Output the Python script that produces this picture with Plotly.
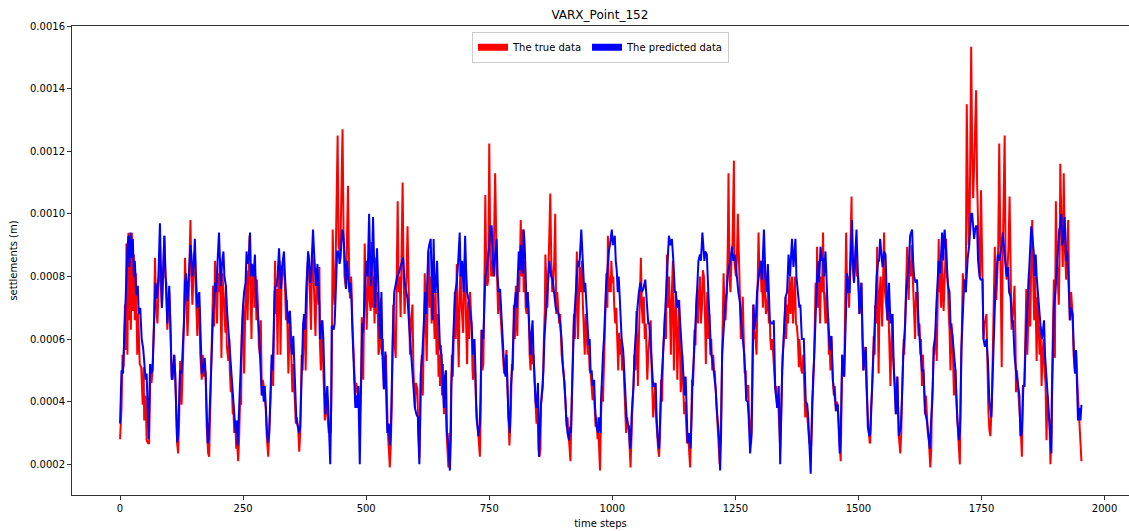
import plotly.graph_objects as go

# settlement values are given in units of 1e-4 m, paired with their time step
UNIT = 1e-4

true_pts = [
(0,2.8),(3,3.8),(5,5.5),(7,5.1),(10,7.1),(12,5.65),(13,9.05),(15,5.5),(17,9.4),(18,6.6),(20,9.3),(22,6.3),(24,9.4),(26,6.9),(28,8.7),(30,6.6),(32,8.1),(35,5.5),(37,6.8),(40,5.2),(43,5.1),(46,3.9),(48,5.1),(49,3.4),(52,4.2),(54,2.77),(57,2.67),(59,2.67),
(62,5.2),(64,4.6),(66,5.0),(69,6.6),(71,8.6),(73,7.1),(76,6.5),(78,7.5),(80,8.7),(82,8.1),(85,7.0),(87,7.9),(90,9.3),(92,8.0),(94,7.8),(96,6.3),(98,6.9),(100,7.5),(102,6.6),(105,4.8),(107,4.7),(110,5.5),(112,4.9),(114,3.4),(116,2.67),(118,2.35),(120,3.4),
(122,5.3),(125,3.9),(127,4.9),(130,6.6),(132,8.6),(134,7.5),(137,6.1),(139,7.0),(141,8.7),(143,9.8),(145,8.0),(147,7.1),(150,8.5),(152,8.8),(154,7.5),(157,6.1),(159,7.35),(161,7.0),(163,5.5),(166,4.7),(168,5.5),(170,4.8),(172,5.2),(174,4.8),(176,3.2),(178,2.67),(179,2.35),(181,2.24),
(184,4.5),(186,4.9),(189,7.7),(191,6.4),(193,8.5),(195,7.5),(197,6.5),(199,8.1),(201,7.5),(203,8.6),(205,6.8),(206,5.4),(208,8.1),(210,7.5),(212,7.25),(214,6.2),(215,7.7),(217,5.75),(220,5.3),(222,6.0),(223,5.0),(225,4.3),(227,4.5),(229,3.6),(230,3.9),(232,3.0),(234,3.4),(236,2.5),(237,2.9),(240,2.1),
(242,2.9),(244,4.2),(246,3.9),(247,6.1),(250,7.1),(252,4.9),(255,7.5),(257,8.2),(259,6.6),(261,8.0),(263,9.3),(265,7.7),(267,6.0),(269,8.3),(271,8.1),(273,7.0),(275,8.0),(277,6.6),(278,7.9),(280,7.1),(282,5.8),(284,5.5),(286,6.6),(288,4.2),(290,4.7),(292,4.5),(294,4.05),(296,3.8),(298,2.9),(301,2.24),
(303,3.0),(305,3.9),(307,4.5),(309,5.5),(311,4.5),(313,7.7),(315,8.5),(316,6.8),(318,7.6),(320,5.5),(322,8.3),(324,8.5),(326,5.5),(328,7.7),(330,8.1),(332,8.6),(335,7.7),(337,6.6),(339,7.25),(342,4.9),(344,6.1),(345,6.9),(347,6.1),(350,4.3),(352,5.2),(354,4.5),(357,3.3),(359,3.5),(362,3.1),(364,2.4),
(366,3.0),(369,5.5),(371,5.0),(373,6.3),(375,6.8),(377,5.0),(379,7.7),(381,8.4),(383,8.7),(385,7.9),(388,6.3),(390,8.7),(392,8.5),(394,7.6),(397,6.1),(399,7.7),(401,7.8),(403,7.1),(405,8.3),(406,5.9),(408,5.0),(410,6.6),(412,5.5),(414,4.5),(416,3.4),(418,3.7),(420,4.2),(422,3.4),(424,3.0),(426,3.2),(428,3.0),
(430,5.0),(432,9.5),(434,7.6),(436,7.1),(438,8.5),(440,10.0),(442,12.5),(444,9.0),(446,8.8),(448,9.2),(450,10.5),(452,12.7),(454,9.5),(456,8.0),(459,7.6),(461,9.0),(463,10.9),(465,8.5),(467,7.3),(469,8.0),(470,7.8),(472,6.5),(474,5.5),(476,4.7),(478,4.2),(480,4.6),(482,4.3),(484,4.5),(486,3.5),(488,3.8),
(490,5.0),(491,6.7),(494,4.7),(497,9.05),(499,7.0),(501,6.3),(503,7.5),(505,8.5),(507,7.2),(509,6.9),(511,9.1),(513,7.0),(515,8.0),(517,6.5),(519,8.6),(521,6.8),(523,7.5),(525,5.5),(528,5.8),(530,7.3),(532,5.5),(534,6.0),(536,4.4),(538,5.3),(540,5.5),(542,3.6),(544,3.0),(546,2.5),(548,1.9),
(550,2.6),(552,3.9),(555,7.1),(557,6.0),(560,5.4),(562,8.0),(564,10.4),(566,7.5),(568,8.0),(570,6.7),(572,8.5),(574,11.0),(576,8.0),(578,6.8),(580,7.5),(582,8.0),(584,9.6),(586,7.5),(588,6.0),(589,5.5),(591,6.5),(594,7.1),(596,5.0),(599,3.8),(601,4.6),(604,4.4),(606,3.0),(608,2.2),
(610,3.5),(611,4.9),(613,5.5),(615,4.2),(617,6.0),(619,8.1),(621,6.5),(623,5.3),(625,7.5),(627,8.8),(629,7.0),(631,8.0),(633,6.5),(635,8.5),(637,7.0),(639,6.0),(641,7.5),(643,5.5),(645,6.8),(647,4.8),(649,5.5),(650,4.5),(652,5.8),(654,4.2),(656,5.2),(658,3.6),(660,4.5),(662,3.5),(664,2.8),(667,1.9),
(669,3.0),(671,2.9),(672,4.0),(674,5.5),(676,4.8),(678,6.5),(680,7.5),(682,6.0),(684,8.4),(686,6.5),(688,5.1),(690,7.5),(692,8.5),(694,7.0),(697,6.2),(699,8.0),(701,8.5),(703,6.5),(705,5.2),(707,7.2),(709,6.0),(711,7.5),(714,6.5),(716,5.0),(717,4.7),(719,5.5),(721,5.0),(723,4.0),(725,3.5),(727,2.9),(729,2.5),(731,2.24),
(733,4.0),(734,6.3),(736,5.0),(738,5.2),(740,7.5),(742,10.6),(744,8.0),(746,7.7),(748,7.9),(750,12.25),(752,9.0),(754,8.0),(756,8.5),(758,8.0),(760,9.5),(762,11.3),(765,8.5),(768,6.8),(770,7.6),(772,7.0),(775,6.0),(778,5.5),(780,4.9),(782,5.0),(785,5.65),(787,4.5),(789,3.5),(791,2.6),
(794,3.8),(796,5.2),(798,5.0),(800,7.1),(802,6.0),(804,7.7),(806,6.5),(807,6.1),(809,8.0),(811,7.5),(813,9.0),(814,9.8),(816,8.0),(818,9.5),(820,7.5),(822,8.5),(824,7.0),(826,6.8),(828,7.5),(830,6.9),(832,5.5),(834,5.0),(836,6.0),(838,5.2),(840,5.5),(842,4.5),(844,4.0),(846,3.3),(848,3.8),(850,2.5),(852,2.24),
(854,2.5),(855,3.9),(857,4.2),(859,4.5),(861,6.0),(863,7.0),(864,8.7),(866,7.5),(868,7.0),(870,8.0),(872,9.0),(874,10.65),(876,8.5),(878,7.5),(880,7.9),(882,8.5),(884,10.0),(886,6.8),(888,7.5),(890,7.0),(892,6.5),(894,6.8),(895,6.0),(897,5.5),(899,5.2),(901,5.0),(903,4.4),(905,4.0),(907,3.2),(909,3.5),(911,3.0),(913,2.6),(915,2.1),
(918,4.4),(920,5.5),(922,6.8),(924,6.0),(926,7.5),(928,8.8),(930,6.0),(932,7.0),(934,8.3),(936,7.5),(938,8.5),(940,7.2),(942,6.5),(944,5.5),(946,6.8),(948,6.0),(950,5.5),(952,5.8),(954,5.0),(956,4.9),(958,4.5),(960,4.05),(962,4.5),(964,3.8),(966,3.2),(968,3.5),(970,2.8),(972,3.0),(975,1.8),
(977,3.5),(979,4.5),(981,4.0),(983,5.0),(985,6.5),(987,7.5),(988,8.1),(990,7.0),(991,9.3),(993,7.5),(995,8.0),(997,7.5),(998,8.5),(1000,7.8),(1002,8.0),(1004,7.0),(1006,6.5),(1008,7.0),(1010,6.0),(1012,5.0),(1014,6.2),(1016,5.5),(1018,6.0),(1020,5.0),(1022,5.5),(1024,4.5),(1026,4.0),(1028,3.0),(1030,3.5),(1032,3.2),(1034,3.0),(1037,1.9),
(1039,3.5),(1041,3.9),(1043,4.5),(1045,5.5),(1047,5.0),(1049,6.9),(1051,5.5),(1052,4.5),(1054,6.0),(1056,7.0),(1058,8.6),(1060,7.0),(1062,6.5),(1064,7.35),(1066,6.0),(1068,6.5),(1070,5.5),(1071,4.7),(1073,5.5),(1075,6.0),(1078,6.6),(1080,5.0),(1083,3.5),(1085,4.0),(1087,4.6),(1089,3.5),(1091,2.9),(1093,2.5),(1095,2.24),
(1097,3.0),(1099,4.7),(1101,4.0),(1103,5.5),(1105,6.0),(1107,6.8),(1109,6.0),(1111,8.7),(1113,7.0),(1115,8.0),(1117,7.0),(1119,5.5),(1121,7.5),(1123,8.5),(1125,5.0),(1127,6.5),(1129,7.5),(1131,6.0),(1132,4.7),(1134,6.0),(1136,7.25),(1137,6.0),(1139,4.3),(1141,5.0),(1142,5.5),(1144,4.5),(1146,3.6),(1148,4.0),(1150,3.5),(1152,2.67),(1154,3.0),(1156,2.5),(1158,1.9),
(1160,3.0),(1162,4.7),(1164,4.5),(1166,5.5),(1167,6.3),(1169,5.8),(1170,7.0),(1172,7.5),(1174,6.5),(1176,7.5),(1178,8.0),(1180,6.5),(1182,7.0),(1184,8.2),(1186,8.0),(1188,7.0),(1190,5.2),(1191,6.5),(1193,7.5),(1195,6.0),(1197,6.8),(1199,5.5),(1201,6.0),(1203,5.0),(1205,5.5),(1207,4.9),(1208,5.0),(1210,4.4),(1212,3.8),(1213,3.4),(1215,3.0),(1216,2.35),(1218,2.0),
(1221,3.5),(1223,5.5),(1225,6.5),(1226,8.1),(1228,7.0),(1230,6.6),(1231,7.0),(1233,7.5),(1235,9.5),(1236,11.3),(1238,8.0),(1240,7.5),(1242,8.5),(1244,9.0),(1247,11.7),(1248,8.5),(1251,8.0),(1253,8.5),(1255,10.0),(1257,8.0),(1259,7.5),(1261,6.0),(1263,7.0),(1265,7.35),(1267,6.0),(1269,4.9),(1271,5.0),(1272,4.05),(1274,4.5),(1276,4.5),(1278,3.5),(1280,3.0),(1282,2.67),
(1284,4.5),(1286,7.1),(1288,6.0),(1289,6.3),(1291,6.0),(1293,5.5),(1295,7.5),(1297,9.4),(1299,8.0),(1301,8.5),(1303,7.5),(1304,7.9),(1306,7.0),(1308,8.5),(1310,7.5),(1312,6.8),(1314,7.0),(1316,7.5),(1318,6.5),(1320,6.6),(1321,6.0),(1323,5.65),(1325,6.0),(1327,5.5),(1329,5.0),(1331,4.4),(1333,4.5),(1335,3.8),(1337,4.0),(1339,3.0),(1341,2.5),
(1343,3.5),(1345,5.0),(1346,5.5),(1348,5.9),(1350,6.5),(1352,7.35),(1353,6.0),(1355,7.1),(1357,6.5),(1358,7.5),(1360,8.0),(1362,6.8),(1363,7.5),(1365,8.0),(1367,6.5),(1369,7.5),(1371,8.0),(1373,6.5),(1375,6.4),(1377,6.0),(1379,5.1),(1380,6.0),(1382,5.5),(1384,5.0),(1386,4.9),(1388,5.5),(1390,4.5),(1392,3.5),(1394,4.0),(1396,3.5),(1398,3.0),(1400,2.7),(1402,2.6),
(1404,2.6),(1406,4.05),(1408,4.5),(1410,5.4),(1411,6.5),(1413,7.8),(1415,7.0),(1416,8.95),(1418,7.0),(1420,7.8),(1422,6.5),(1424,8.0),(1426,7.5),(1428,9.4),(1430,7.5),(1431,7.0),(1433,6.5),(1435,7.5),(1437,6.5),(1438,6.8),(1440,5.5),(1442,5.65),(1443,5.0),(1445,6.1),(1447,5.0),(1448,4.7),(1450,4.2),(1452,4.5),(1454,3.7),(1456,4.0),(1458,3.9),(1460,3.0),(1462,2.6),(1464,2.1),
(1467,5.5),(1468,5.2),(1471,4.8),(1473,6.5),(1475,9.4),(1477,7.5),(1479,8.0),(1481,7.0),(1483,8.5),(1486,10.55),(1487,8.5),(1489,8.0),(1491,7.8),(1493,8.5),(1495,9.0),(1497,8.0),(1499,8.1),(1501,7.5),(1502,6.8),(1504,7.0),(1506,7.8),(1508,6.0),(1510,5.0),(1512,5.3),(1514,5.75),(1516,4.5),(1518,3.8),(1520,3.3),(1523,2.67),
(1524,2.7),(1526,3.8),(1528,4.5),(1531,6.1),(1533,5.5),(1534,7.1),(1536,6.5),(1538,8.95),(1539,7.0),(1541,4.9),(1543,7.5),(1545,8.0),(1548,6.4),(1550,7.5),(1552,9.4),(1554,7.5),(1556,7.0),(1559,6.6),(1560,7.5),(1562,6.0),(1563,5.5),(1565,4.5),(1567,6.0),(1569,6.8),(1570,5.5),(1572,5.0),(1574,4.5),(1576,3.6),(1577,4.0),(1579,4.8),(1581,3.5),(1582,2.9),(1585,2.35),
(1587,3.0),(1588,3.9),(1590,5.0),(1592,6.0),(1593,5.5),(1595,6.5),(1597,8.0),(1599,8.95),(1600,8.0),(1602,7.25),(1604,8.5),(1606,8.0),(1608,9.0),(1610,8.0),(1612,7.7),(1614,6.5),(1615,6.0),(1617,7.5),(1619,7.0),(1620,7.5),(1622,6.1),(1624,6.5),(1626,5.5),(1627,6.0),(1629,4.5),(1631,5.5),(1633,4.8),(1635,3.6),(1637,4.2),(1639,3.4),(1641,3.0),(1643,2.77),(1645,2.3),(1646,1.9),
(1648,2.5),(1649,3.9),(1651,4.5),(1653,5.75),(1654,5.5),(1656,6.1),(1658,6.5),(1659,5.3),(1661,7.5),(1663,9.2),(1665,7.5),(1666,8.1),(1668,7.0),(1670,8.5),(1673,6.9),(1675,8.0),(1678,9.2),(1680,8.0),(1682,7.7),(1683,7.0),(1685,6.3),(1687,5.0),(1689,6.5),(1691,6.1),(1692,5.0),(1694,4.2),(1695,5.0),(1697,5.0),(1699,4.0),(1701,3.4),(1702,3.2),(1704,2.77),(1706,2.0),
(1707,3.5),(1709,5.65),(1711,7.5),(1712,8.1),(1714,7.5),(1716,7.9),(1718,7.5),(1719,10.0),(1720,13.5),(1722,11.0),(1724,9.0),(1726,9.9),(1727,13.0),(1729,15.34),(1731,12.0),(1733,10.5),(1735,11.5),(1737,12.5),(1739,13.95),(1741,11.0),(1743,9.0),(1745,8.5),(1747,8.0),(1749,10.75),(1752,7.9),(1754,6.0),(1756,6.5),(1758,6.6),(1760,6.8),(1762,5.0),(1764,3.7),(1766,3.1),(1768,2.9),
(1771,4.0),(1773,5.5),(1775,7.0),(1777,8.95),(1778,8.0),(1780,7.25),(1782,8.0),(1784,9.0),(1786,12.25),(1789,8.8),(1790,7.0),(1791,5.1),(1793,8.5),(1795,10.0),(1797,12.5),(1799,8.4),(1801,7.9),(1803,8.3),(1805,9.0),(1807,10.55),(1809,7.35),(1811,6.3),(1813,6.6),(1815,7.0),(1817,7.7),(1819,6.0),(1820,4.3),(1822,5.0),(1824,4.5),(1826,4.2),(1828,3.5),(1830,3.0),(1832,2.24),
(1834,4.5),(1837,4.5),(1839,6.0),(1841,7.6),(1843,5.5),(1845,6.5),(1846,8.1),(1849,6.4),(1851,8.5),(1853,9.8),(1855,8.0),(1857,6.6),(1859,8.0),(1862,5.3),(1864,7.35),(1866,6.5),(1868,5.5),(1870,6.4),(1872,4.5),(1874,5.5),(1876,6.0),(1878,5.0),(1880,4.6),(1882,2.77),(1884,4.2),(1886,3.5),(1888,3.4),(1890,2.0),
(1892,3.0),(1893,4.5),(1895,6.1),(1897,7.9),(1899,5.4),(1901,10.4),(1903,8.7),(1905,8.0),(1907,7.1),(1909,9.0),(1910,11.6),(1912,10.0),(1913,9.0),(1915,8.3),(1917,11.3),(1919,9.0),(1922,7.9),(1924,8.8),(1926,9.8),(1929,6.6),(1932,7.5),(1935,6.8),(1937,5.5),(1940,4.9),(1942,5.65),(1945,4.5),(1947,3.8),(1949,3.4),(1951,2.8),(1953,2.1),
]

pred_pts = [
(0,3.3),(3,5.0),(6,4.9),(9,6.3),(12,7.5),(15,8.9),(17,9.3),(19,8.3),(21,9.4),(24,8.6),(26,9.2),(28,8.0),(30,8.5),(33,7.4),(36,7.7),(38,6.8),(41,7.0),(44,6.0),(47,5.7),(50,5.2),(52,4.7),(54,4.9),(56,3.3),(58,2.8),
(61,5.2),(63,4.9),(66,5.0),(69,6.6),(72,7.8),(75,7.3),(78,8.0),(81,9.7),(83,8.1),(85,7.0),(87,7.9),(90,9.3),(92,8.3),(94,7.5),(96,6.5),(98,7.2),(100,7.7),(102,6.6),(105,4.7),(108,5.0),(110,5.5),(112,4.9),(114,3.6),(116,2.7),(118,3.0),
(120,4.5),(122,5.0),(125,4.9),(127,5.5),(130,6.6),(132,7.8),(134,8.1),(137,7.2),(139,8.0),(141,8.7),(143,9.0),(145,8.7),(147,8.0),(150,8.5),(152,9.2),(154,8.1),(157,7.0),(159,7.35),(161,7.5),(163,6.5),(166,4.9),(168,5.0),(170,5.2),(172,5.4),(174,4.8),(176,3.2),(178,2.67),(180,2.8),
(182,3.8),(184,4.5),(186,5.2),(189,6.8),(191,7.2),(193,7.8),(195,7.5),(197,8.1),(199,8.6),(201,9.4),(203,8.5),(205,7.7),(207,8.4),(210,8.8),(212,8.0),(215,7.7),(217,7.0),(220,6.3),(222,6.0),(225,5.0),(227,4.5),(229,4.2),(231,3.8),(233,3.4),(235,3.0),(237,3.4),(239,2.6),
(241,3.5),(244,4.7),(246,5.5),(248,6.5),(250,7.1),(252,7.5),(255,7.8),(257,8.8),(259,8.4),(262,8.7),(264,9.4),(266,8.0),(268,8.4),(271,8.0),(274,8.7),(276,7.5),(278,7.2),(280,6.8),(282,6.3),(284,5.5),(286,5.0),(288,4.2),(290,4.5),(292,4.0),(294,4.5),(296,3.8),(299,2.9),(301,2.7),(303,3.0),
(305,3.9),(308,5.5),(310,5.0),(312,6.8),(314,7.5),(316,7.7),(318,7.7),(320,8.0),(323,8.9),(325,8.2),(327,7.6),(329,8.3),(331,8.5),(333,8.8),(335,8.0),(337,7.5),(339,7.0),(341,6.5),(343,6.8),(345,6.9),(347,6.0),(349,5.5),(352,6.1),(354,5.0),(356,4.5),(358,3.5),(360,3.3),(362,3.1),(364,3.0),(366,3.2),
(368,4.5),(370,5.5),(372,6.5),(374,6.8),(376,6.3),(378,7.5),(380,8.0),(382,8.8),(384,8.5),(386,7.8),(388,8.0),(390,8.7),(392,9.5),(394,8.8),(396,8.2),(398,7.7),(401,8.4),(403,7.6),(405,7.1),(406,6.0),(408,6.3),(411,6.6),(413,6.0),(415,4.5),(417,3.6),(419,4.0),(421,4.5),(423,3.8),(425,3.0),(427,2.0),
(429,4.0),(430,6.4),(432,6.4),(434,6.3),(436,6.5),(438,7.5),(441,8.8),(444,8.8),(446,8.4),(448,8.6),(451,9.5),(453,9.4),(455,9.0),(457,8.3),(459,7.6),(461,8.5),(464,8.0),(466,7.5),(468,7.8),(470,7.3),(472,6.3),(474,5.5),(476,4.7),(478,3.8),(480,4.2),(482,3.8),(484,4.5),(486,2.6),(487,2.0),
(489,4.0),(490,5.5),(492,6.5),(494,6.2),(497,7.5),(500,8.5),(503,8.0),(506,10.0),(508,8.5),(510,7.7),(512,8.5),(514,9.9),(516,8.5),(518,7.0),(520,8.0),(522,8.9),(525,7.5),(528,6.0),(531,7.5),(533,5.5),(536,4.4),(539,5.6),(541,4.0),(543,3.0),(546,3.3),(548,2.6),
(550,3.0),(551,3.9),(554,6.0),(557,7.5),(560,7.8),(563,8.0),(566,8.1),(569,8.3),(572,8.5),(575,8.6),(578,7.8),(581,7.6),(584,7.3),(587,6.5),(590,5.8),(593,5.0),(596,4.5),(599,3.8),(602,3.6),(605,3.5),(608,2.0),
(610,3.5),(611,4.9),(614,5.5),(617,6.5),(620,7.5),(622,6.8),(624,8.0),(626,8.8),(628,9.0),(631,9.2),(633,8.0),(635,6.6),(637,9.2),(639,7.5),(641,7.5),(644,8.5),(647,7.0),(650,5.7),(653,5.5),(656,4.5),(658,3.8),(660,4.8),(662,5.0),(664,3.0),(667,2.6),(670,1.8),
(672,2.8),(673,4.5),(675,5.5),(678,6.5),(681,7.5),(684,7.8),(687,8.5),(690,9.4),(692,8.0),(695,8.5),(698,7.5),(701,9.3),(703,8.2),(705,7.5),(708,7.25),(711,6.8),(714,6.5),(717,5.5),(720,6.0),(722,5.0),(724,3.5),(726,3.2),(728,2.9),(731,3.3),
(733,5.0),(735,6.3),(738,6.0),(740,7.0),(742,8.0),(744,8.1),(747,8.5),(750,9.0),(752,9.6),(755,9.6),(757,8.5),(760,8.0),(762,8.7),(765,9.2),(767,8.0),(769,7.5),(772,7.6),(775,6.5),(778,5.5),(780,5.2),(783,4.8),(785,5.5),(787,4.5),(789,3.5),(792,3.0),
(794,4.5),(797,5.2),(799,6.5),(801,7.0),(804,7.5),(806,7.0),(808,8.0),(810,8.8),(812,8.2),(814,9.0),(816,8.5),(818,8.1),(820,9.5),(822,9.0),(824,8.0),(826,7.0),(828,7.5),(830,6.9),(832,6.5),(834,5.5),(836,6.2),(838,6.6),(840,5.5),(842,4.5),(844,4.0),(846,3.8),(848,4.2),(849,4.6),(851,2.24),
(853,3.5),(855,3.9),(858,4.5),(860,5.0),(862,6.0),(864,6.8),(866,7.0),(868,7.5),(870,8.0),(872,8.5),(874,8.2),(876,8.0),(879,7.9),(882,7.5),(885,7.0),(888,6.9),(891,6.8),(894,6.5),(897,6.0),(900,5.0),(903,4.6),(906,3.6),(909,3.0),(912,2.77),(914,3.2),
(916,3.0),(918,4.4),(920,5.5),(922,6.5),(924,7.0),(926,7.5),(928,8.0),(930,8.5),(932,8.3),(934,8.6),(937,9.5),(939,8.8),(941,8.1),(943,7.5),(945,7.8),(947,7.25),(950,6.5),(952,5.8),(954,6.0),(956,4.9),(958,5.0),(960,4.5),(963,4.7),(965,3.8),(968,3.2),(971,3.0),(973,3.5),(976,3.0),
(977,4.0),(979,5.0),(981,5.5),(983,6.0),(985,7.0),(987,7.5),(989,8.0),(991,8.5),(993,8.8),(995,9.0),(997,9.4),(999,9.5),(1001,9.0),(1003,9.2),(1005,9.3),(1007,8.5),(1009,8.2),(1011,7.5),(1013,8.0),(1015,7.35),(1017,6.5),(1019,6.0),(1022,5.65),(1025,4.7),(1027,4.0),(1029,3.5),(1031,3.3),(1034,3.2),(1036,2.5),(1038,2.8),
(1039,3.5),(1041,3.9),(1043,4.5),(1045,5.5),(1048,6.5),(1051,7.0),(1054,7.5),(1057,7.8),(1060,7.5),(1063,7.6),(1067,7.9),(1070,7.0),(1073,6.5),(1075,6.5),(1077,6.0),(1080,5.0),(1083,4.5),(1086,4.5),(1088,4.6),(1090,3.5),(1092,2.9),(1095,2.5),
(1097,3.5),(1100,4.7),(1103,5.5),(1106,6.5),(1109,7.5),(1112,8.5),(1115,9.3),(1118,9.0),(1121,9.2),(1124,8.5),(1127,7.5),(1129,7.5),(1132,7.0),(1135,7.25),(1138,6.5),(1140,6.0),(1142,5.5),(1145,4.8),(1147,4.2),(1149,4.8),(1151,3.5),(1153,2.67),(1156,3.0),(1159,2.5),
(1161,3.5),(1163,4.7),(1166,5.5),(1168,6.3),(1171,7.0),(1173,8.0),(1175,8.5),(1178,8.7),(1180,8.5),(1183,9.4),(1185,8.8),(1187,8.5),(1189,8.8),(1192,8.7),(1195,7.5),(1197,6.8),(1199,6.0),(1201,5.5),(1203,5.4),(1206,5.0),(1208,4.8),(1210,4.4),(1212,3.8),(1214,3.3),(1217,2.8),(1219,1.8),
(1221,3.0),(1223,5.5),(1226,6.5),(1229,7.0),(1232,7.5),(1234,8.0),(1237,8.3),(1240,8.5),(1243,8.95),(1246,8.5),(1249,8.7),(1251,8.2),(1253,8.0),(1256,7.5),(1259,7.2),(1262,6.5),(1265,6.0),(1268,5.5),(1270,4.9),(1272,4.05),(1275,4.0),(1277,3.5),(1280,2.35),(1283,3.0),
(1285,5.0),(1287,7.1),(1289,6.3),(1292,6.8),(1294,7.5),(1297,8.0),(1301,8.5),(1304,7.9),(1306,8.5),(1308,9.5),(1311,8.0),(1314,7.5),(1316,8.4),(1318,7.5),(1320,6.6),(1323,6.5),(1326,6.5),(1328,6.6),(1331,4.4),(1335,3.8),(1338,4.5),(1340,3.0),(1341,2.0),
(1343,3.5),(1345,5.0),(1348,6.0),(1350,6.8),(1352,7.35),(1355,7.5),(1358,8.7),(1361,8.0),(1365,9.2),(1368,8.3),(1372,9.2),(1374,8.0),(1377,7.5),(1380,7.0),(1382,7.1),(1385,6.0),(1389,6.0),(1391,5.0),(1393,4.0),(1396,3.9),(1398,3.5),(1400,2.77),(1403,1.7),
(1404,2.5),(1406,4.05),(1408,4.8),(1410,5.4),(1412,6.5),(1414,7.5),(1416,8.0),(1418,8.5),(1420,7.8),(1423,8.95),(1426,8.5),(1428,8.6),(1430,8.0),(1433,8.8),(1436,7.5),(1438,6.8),(1442,5.65),(1445,6.1),(1448,4.7),(1452,4.2),(1455,3.7),(1458,3.9),(1460,3.2),(1462,2.35),(1464,3.0),
(1465,4.5),(1467,5.5),(1471,4.8),(1473,6.0),(1475,7.0),(1477,8.1),(1480,7.5),(1482,7.5),(1484,8.5),(1487,9.8),(1489,8.5),(1491,7.8),(1493,8.5),(1496,9.5),(1498,8.5),(1499,8.1),(1502,6.8),(1506,7.8),(1508,6.5),(1510,5.0),(1513,5.5),(1515,5.75),(1517,4.5),(1519,3.2),(1522,2.9),
(1524,3.0),(1526,3.8),(1529,5.0),(1531,6.1),(1534,7.1),(1537,8.0),(1540,8.5),(1542,8.5),(1544,9.2),(1547,8.5),(1549,8.3),(1552,8.8),(1555,8.7),(1559,6.6),(1562,7.8),(1565,6.5),(1569,6.8),(1572,5.0),(1576,3.6),(1579,4.8),(1582,2.9),(1586,3.2),
(1588,3.9),(1591,5.5),(1593,6.0),(1595,6.5),(1597,7.5),(1600,8.0),(1602,8.3),(1605,9.3),(1609,9.5),(1611,8.5),(1613,8.0),(1616,7.8),(1619,7.9),(1622,6.5),(1626,5.5),(1629,5.0),(1632,5.0),(1636,3.6),(1639,3.4),(1643,2.77),(1645,2.5),
(1648,3.5),(1650,4.0),(1653,5.75),(1656,6.1),(1658,7.0),(1661,8.0),(1663,8.5),(1666,8.1),(1670,9.4),(1672,8.5),(1675,9.5),(1678,8.8),(1682,7.7),(1685,7.5),(1687,6.5),(1691,6.1),(1694,5.5),(1697,5.0),(1701,3.4),(1704,2.77),(1706,3.0),
(1707,3.5),(1709,5.65),(1712,7.0),(1715,7.9),(1718,7.5),(1720,8.3),(1722,8.6),(1725,9.0),(1727,9.5),(1729,10.0),(1731,10.0),(1733,9.5),(1735,9.2),(1737,9.5),(1739,9.6),(1741,9.6),(1743,8.5),(1746,8.0),(1748,7.9),(1752,7.9),(1754,6.0),(1757,5.75),(1760,6.0),(1763,5.3),(1766,4.0),(1770,3.5),
(1773,5.5),(1776,6.5),(1778,7.5),(1780,8.0),(1783,8.7),(1786,8.5),(1789,8.8),(1791,9.0),(1793,9.4),(1796,8.8),(1799,8.4),(1801,8.0),(1804,8.3),(1806,7.5),(1809,7.35),(1812,6.5),(1814,6.6),(1817,5.5),(1820,5.0),(1824,4.5),(1827,4.2),(1829,2.9),(1832,3.0),
(1835,4.5),(1837,4.5),(1840,6.0),(1843,7.0),(1846,8.1),(1849,9.0),(1851,9.6),(1853,9.3),(1856,8.8),(1858,8.0),(1860,8.7),(1862,8.0),(1865,7.35),(1867,6.8),(1870,6.4),(1873,6.0),(1877,6.6),(1879,5.5),(1881,5.0),(1885,4.2),(1888,3.4),(1892,2.35),
(1893,4.0),(1895,6.1),(1897,7.0),(1900,7.5),(1902,8.0),(1904,8.7),(1906,9.0),(1908,9.5),(1910,9.6),(1912,10.0),(1914,9.0),(1916,9.2),(1919,9.9),(1922,8.5),(1924,8.8),(1927,7.5),(1930,6.6),(1932,7.0),(1935,6.8),(1938,5.5),(1940,4.9),(1942,5.65),(1946,3.4),(1949,3.8),(1951,3.4),(1953,3.9),
]

x_ticks = [0, 250, 500, 750, 1000, 1250, 1500, 1750, 2000]
y_ticks = [0.0002, 0.0004, 0.0006, 0.0008, 0.0010, 0.0012, 0.0014, 0.0016]

true_x = [p[0] for p in true_pts]
true_y = [p[1] * UNIT for p in true_pts]
pred_x = [p[0] for p in pred_pts]
pred_y = [p[1] * UNIT for p in pred_pts]

FONT = "DejaVu Sans"

fig = go.Figure()
fig.add_trace(go.Scatter(x=true_x, y=true_y, mode="lines",
                         line=dict(color="#ff0000", width=2), showlegend=False,
                         name="The true data"))
fig.add_trace(go.Scatter(x=pred_x, y=pred_y, mode="lines",
                         line=dict(color="#0000ff", width=2), showlegend=False,
                         name="The predicted data"))
# legend patches
fig.add_trace(go.Scatter(x=[None], y=[None], mode="lines",
                         line=dict(color="#ff0000", width=7), name="The true data"))
fig.add_trace(go.Scatter(x=[None], y=[None], mode="lines",
                         line=dict(color="#0000ff", width=7), name="The predicted data"))

axis_common = dict(showline=True, linecolor="#333333", linewidth=1, mirror=True,
                   ticks="outside", ticklen=4, tickcolor="#333333", showgrid=False,
                   zeroline=False, tickfont=dict(family=FONT, size=10, color="black"))

fig.update_layout(
    width=1129, height=531,
    margin=dict(l=72, r=0, t=26, b=36),
    paper_bgcolor="white", plot_bgcolor="white",
    font=dict(family=FONT, size=10, color="black"),
    title=dict(text="VARX_Point_152", x=0.5313, xanchor="center", y=0.972, yanchor="middle",
               font=dict(family=FONT, size=12, color="black")),
    xaxis=dict(range=[-97.6, 2049.6], tickvals=x_ticks, ticktext=[str(v) for v in x_ticks],
               title=dict(text="time steps", font=dict(family=FONT, size=10), standoff=6),
               **axis_common),
    yaxis=dict(range=[0.000102, 0.0016], tickvals=y_ticks, tickformat=".4f",
               title=dict(text="settlements (m)", font=dict(family=FONT, size=10), standoff=10),
               **axis_common),
    legend=dict(orientation="h", x=0.5, xanchor="center", y=0.988, yanchor="top",
                bgcolor="white", bordercolor="#cccccc", borderwidth=1,
                font=dict(family=FONT, size=10, color="black"), itemwidth=30),
)

fig.write_html("out.html")
